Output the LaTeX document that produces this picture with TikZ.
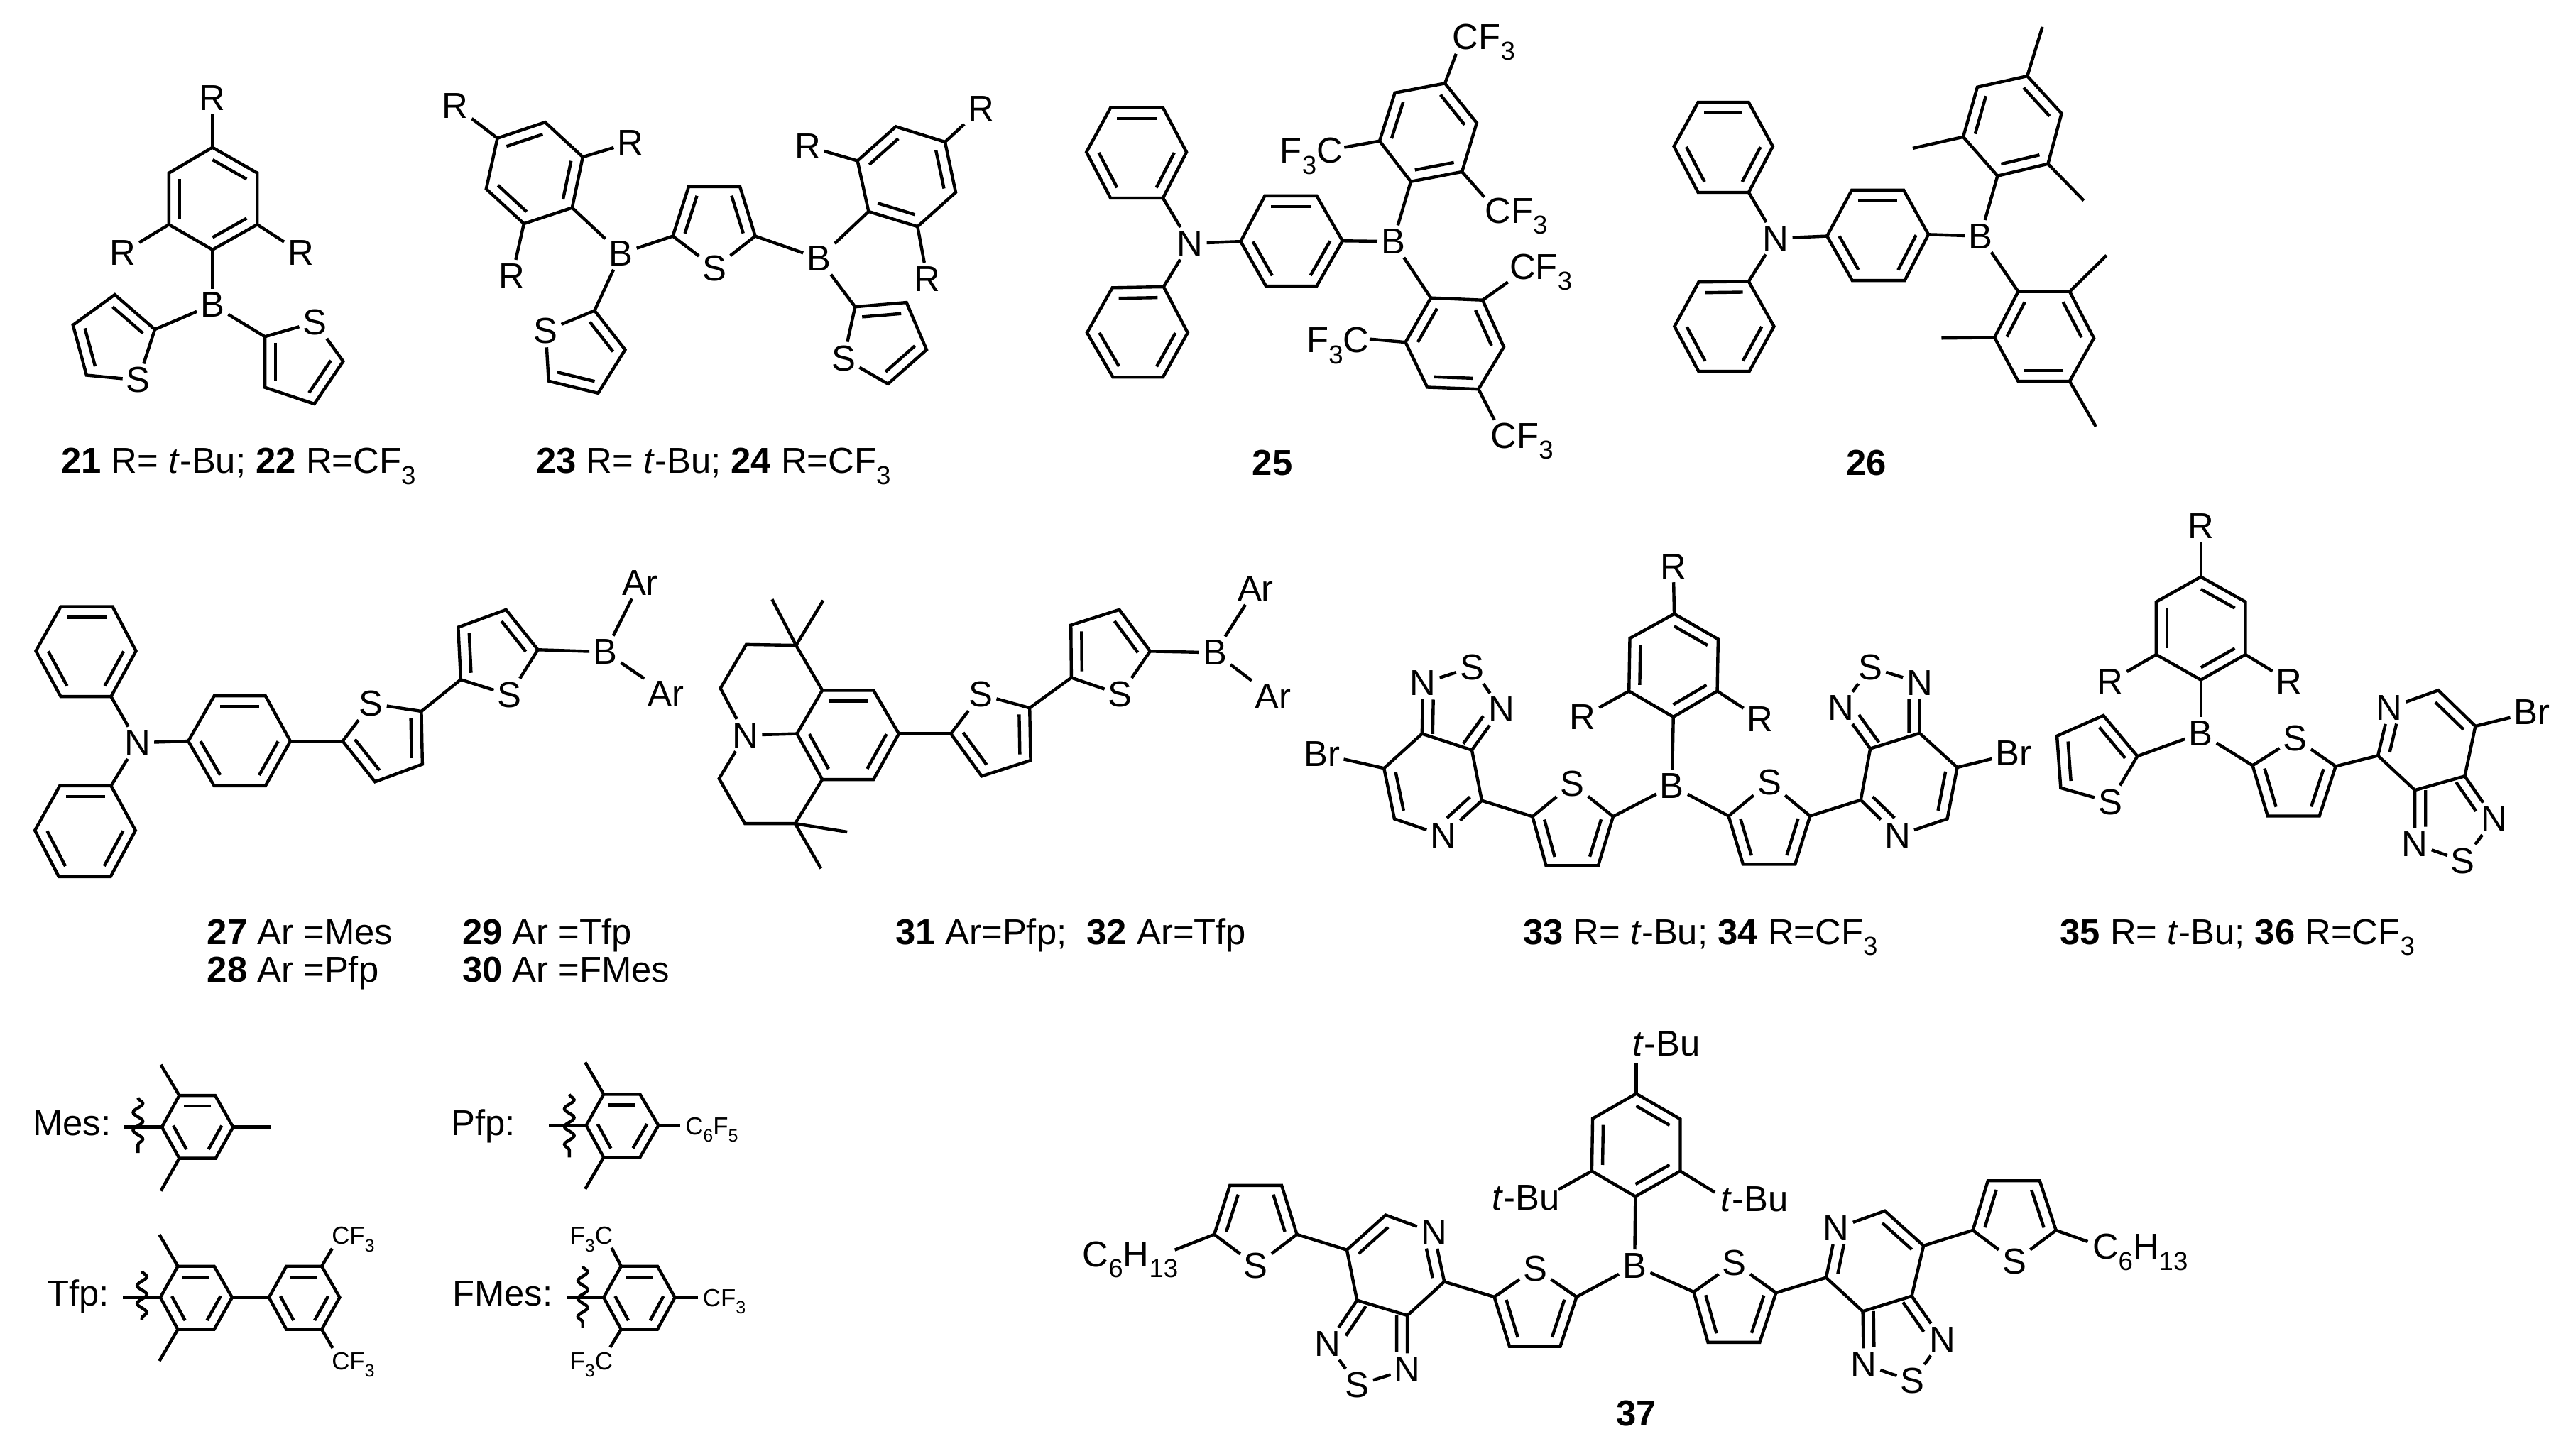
\documentclass[tikz,border=0pt]{standalone}
\usepackage{fontspec}
\usepackage{graphicx}
\setmainfont{Liberation Sans}
\usetikzlibrary{calc,decorations.pathmorphing}
\newcommand\sbs[1]{\raisebox{-.3em}{\scalebox{.72}{#1}}}
\tikzset{
 zc/.style n args={4}{shift={(#1*0.25pt,-#2*0.25pt)},x=#3*0.25pt/1568,y=-#4*0.25pt/1568},
 bond/.style={line width=1.1pt,line join=miter,black},
 atom/.style={inner sep=1.1pt,font=\fontsize{12.7}{14}\selectfont},
 lab/.style={inner sep=0pt,font=\fontsize{12.7}{14}\selectfont,anchor=base west},
 smalllab/.style={inner sep=0pt,font=\fontsize{8.7}{10}\selectfont,anchor=base west},
 wavy/.style={line width=1.1pt,decorate,decoration={snake,amplitude=1.7pt,segment length=6.3pt}},
}
\newcommand\gapdb{3.75pt}
\newcommand\pnt[2]{\coordinate (#1) at (#2);}
\newcommand\atm[3]{\node[atom] (#1) at (#3) {#2};}
\newcommand\bnd[2]{\draw[bond] (#1) -- (#2);}
\newcommand\free[3]{\coordinate (#1) at (#3); \draw[bond] (#2) -- (#1);}
% inner line of a double bond, on the side of a centre point
\newcommand\dblf[5]{%
 \coordinate (tmpA) at ($(#1.center)!(#3.center)!(#2.center)$);
 \coordinate (tmpB) at ($(tmpA)!\gapdb!(#3.center)$);
 \draw[bond] ($(#1.center)!#4!(#2.center)+(tmpB)-(tmpA)$) -- ($(#1.center)!#5!(#2.center)+(tmpB)-(tmpA)$);}
\newcommand\dbl[3]{\dblf{#1}{#2}{#3}{.12}{.88}}
\newcommand\hexr[8]{%
 \pnt{#1a}{#2}\pnt{#1b}{#3}\pnt{#1c}{#4}\pnt{#1d}{#5}\pnt{#1e}{#6}\pnt{#1f}{#7}%
 \coordinate (#1o) at ($(#1a)!.5!(#1d)$);
 \draw[bond] (#1a)--(#1b)--(#1c)--(#1d)--(#1e)--(#1f)--cycle;
 \ifnum#8=1
  \dbl{#1a}{#1b}{#1o}\dbl{#1c}{#1d}{#1o}\dbl{#1e}{#1f}{#1o}%
 \else
  \dbl{#1b}{#1c}{#1o}\dbl{#1d}{#1e}{#1o}\dbl{#1f}{#1a}{#1o}%
 \fi}
\newcommand\thio[6]{%
 \pnt{#12}{#2}\pnt{#13}{#3}\pnt{#14}{#4}\pnt{#15}{#5}\atm{#1S}{S}{#6}%
 \coordinate (#1m) at ($(#13)!.5!(#14)$);
 \coordinate (#1o) at ($(#1m)!.45!(#1S.center)$);
 \draw[bond] (#1S)--(#12)--(#13)--(#14)--(#15)--(#1S);
 \dbl{#12}{#13}{#1o}\dbl{#14}{#15}{#1o}}
\newcommand\pyr[7]{%
 \pnt{#11}{#2}\atm{#1N}{N}{#3}\pnt{#13}{#4}\pnt{#14}{#5}\pnt{#15}{#6}\pnt{#16}{#7}%
 \coordinate (#1o) at ($(#11)!.5!(#14)$);
 \draw[bond] (#11)--(#1N)--(#13)--(#14)--(#15)--(#16)--(#11);
 \dblf{#11}{#1N}{#1o}{.12}{.72}\dbl{#13}{#14}{#1o}}
\newcommand\tdz[4]{%
 \atm{#1Na}{N}{#2}\atm{#1Nb}{N}{#3}\atm{#1Sd}{S}{#4}%
 \coordinate (#1m) at ($(#15)!.5!(#16)$);
 \coordinate (#1q) at ($(#1m)!.5!(#1Sd.center)$);
 \draw[bond] (#15)--(#1Na)--(#1Sd)--(#1Nb)--(#16);
 \dblf{#15}{#1Na}{#1q}{.0}{.68}\dblf{#16}{#1Nb}{#1q}{.0}{.68}}
\newcommand\tbu{\textit{t}-Bu}
\begin{document}
\begin{tikzpicture}
\useasboundingbox (0,0) rectangle (903.5pt,-512.75pt);
% ---------- 21, 23 left
\begin{scope}[zc={0}{60}{1300}{640}]
 \hexr{ma}{361,362}{437,450}{437,628}{361,715}{287,628}{287,450}{1}
 \atm{maRt}{R}{361,190}\atm{maRl}{R}{208,725}\atm{maRr}{R}{511,725}\atm{maB}{B}{361,905}
 \bnd{maa}{maRt}\bnd{mae}{maRl}\bnd{mac}{maRr}\bnd{mad}{maB}
 \thio{mat}{263,990}{195,870}{124,975}{147,1148}{235,1165}
 \thio{mau}{450,1015}{450,1190}{534,1247}{583,1100}{535,965}
 \bnd{maB}{mat2}\bnd{maB}{mau2}
 \node[lab] (lab21) at (103,1487) {\textbf{21} R= \textit{t}-Bu; \textbf{22} R=CF\sbs{3}};
 \hexr{mb}{926,275}{990,395}{972,570}{890,625}{826,505}{845,330}{2}
 \atm{mbR1}{R}{773,218}\atm{mbR2}{R}{1071,345}\atm{mbR3}{R}{870,805}\atm{mbB}{B}{1055,728}
 \bnd{mbf}{mbR1}\bnd{mbb}{mbR2}\bnd{mbd}{mbR3}\bnd{mbc}{mbB}
 \thio{mbt}{1143,668}{1170,497}{1257,497}{1283,668}{1214,778}
 \bnd{mbB}{mbt2}
 \thio{mbu}{1010,925}{1062,1060}{1016,1210}{932,1168}{927,995}
 \bnd{mbB}{mbu2}
 \node[lab] (lab23) at (910,1487) {\textbf{23} R= \textit{t}-Bu; \textbf{24} R=CF\sbs{3}};
\end{scope}
% ---------- 23 right
\begin{scope}[zc={1050}{60}{522.67}{640}]
 \hexr{mc}{635,290}{843,343}{888,517}{727,635}{520,583}{473,408}{2}
 \atm{mcR1}{R}{262,358}\atm{mcR2}{R}{995,228}\atm{mcR3}{R}{768,815}\atm{mcB}{B}{310,745}
 \bnd{mcf}{mcR1}\bnd{mcb}{mcR2}\bnd{mcd}{mcR3}\bnd{mce}{mcB}\bnd{mbt5}{mcB}
 \thio{mcu}{463,912}{680,897}{765,1060}{602,1178}{415,1090}
 \bnd{mcB}{mcu2}
\end{scope}
% ---------- 25, 26 left
\begin{scope}[zc={1400}{0}{1300}{700}]
 \atm{mdN}{N}{333,768}\atm{mdB}{B}{678,762}
 \hexr{mdp}{198,340}{287,340}{327,480}{287,625}{198,625}{157,480}{1}
 \hexr{mdq}{201,908}{288,905}{329,1050}{287,1190}{202,1190}{158,1050}{1}
 \hexr{mdr}{460,618}{548,618}{592,760}{548,903}{462,903}{419,762}{1}
 \bnd{mdpd}{mdN}\bnd{mdqb}{mdN}\bnd{mdN}{mdrf}\bnd{mdrc}{mdB}
 \hexr{mds}{708,573}{795,542}{820,388}{766,263}{681,293}{655,445}{1}
 \hexr{mdt}{742,940}{830,947}{866,1095}{823,1228}{736,1222}{699,1080}{2}
 \bnd{mdB}{mdsa}\bnd{mdB}{mdta}
 \free{mde1}{mdsd}{785,170}\free{mde2}{mdsf}{595,465}\free{mde3}{mdsb}{833,622}
 \free{mde4}{mdtb}{873,890}\free{mde5}{mdtf}{638,1070}\free{mde6}{mdtd}{850,1325}
 \node[lab] (mdc1) at (778,155) {CF\sbs{3}};
 \node[lab] (mdc2) at (485,515) {F\sbs{3}C};
 \node[lab] (mdc3) at (833,705) {CF\sbs{3}};
 \node[lab] (mdc4) at (875,882) {CF\sbs{3}};
 \node[lab] (mdc5) at (530,1113) {F\sbs{3}C};
 \node[lab] (mdc6) at (843,1415) {CF\sbs{3}};
 \node[lab] (lab25) at (438,1500) {\textbf{25}};
 \atm{meN}{N}{1328,752}
 \hexr{mep}{1196,323}{1282,323}{1323,462}{1282,607}{1196,607}{1155,462}{1}
 \hexr{meq}{1197,890}{1282,888}{1325,1030}{1283,1172}{1197,1172}{1156,1030}{1}
 \bnd{meN}{mepd}\bnd{meN}{meqb}
\end{scope}
% ---------- 26 right
\begin{scope}[zc={2500}{0}{1114}{700}]
 \atm{meB}{B}{407,745}
 \hexr{mer}{152,600}{255,600}{304,740}{257,885}{153,885}{103,745}{1}
 \bnd{meN}{merf}\bnd{merc}{meB}
 \hexr{mes}{441,555}{541,517}{568,358}{500,240}{401,275}{373,432}{1}
 \hexr{met}{482,920}{584,920}{632,1067}{584,1203}{482,1203}{435,1065}{2}
 \bnd{meB}{mesa}\bnd{meB}{meta}
 \free{mem1}{mesd}{530,85}\free{mem2}{mesf}{273,468}\free{mem3}{mesb}{612,633}
 \free{mem4}{metb}{657,806}\free{mem5}{metf}{330,1067}\free{mem6}{metd}{636,1346}
 \node[lab] (lab26) at (140,1500) {\textbf{26}};
\end{scope}
% ---------- 27
\begin{scope}[zc={0}{760}{1100}{680}]
 \atm{mfN}{N}{276,660}\atm{mfB}{B}{1215,365}\atm{mfA1}{Ar}{1285,140}\atm{mfA2}{Ar}{1337,500}
 \hexr{mfp}{122,218}{226,218}{273,362}{223,510}{122,510}{72,362}{1}
 \hexr{mfq}{120,800}{223,800}{272,945}{222,1095}{118,1095}{70,945}{1}
 \hexr{mfr}{430,508}{533,508}{583,655}{533,800}{430,800}{378,655}{1}
 \bnd{mfpd}{mfN}\bnd{mfqb}{mfN}\bnd{mfN}{mfrf}
 \thio{mft}{688,655}{753,787}{848,730}{846,558}{745,533}
 \thio{mfu}{925,455}{920,285}{1016,228}{1080,358}{1023,505}
 \bnd{mfrc}{mft2}\bnd{mft5}{mfu2}\bnd{mfu5}{mfB}\bnd{mfB}{mfA1}\bnd{mfB}{mfA2}
 \node[lab] (lab27) at (415,1315) {\textbf{27} Ar =Mes};
 \node[lab] (lab29) at (927,1315) {\textbf{29} Ar =Tfp};
 \node[lab] (lab28) at (415,1437) {\textbf{28} Ar =Pfp};
 \node[lab] (lab30) at (927,1437) {\textbf{30} Ar =FMes};
\end{scope}
% ---------- 31
\begin{scope}[zc={1000}{760}{1000}{620}]
 \atm{mgN}{N}{78,697}\atm{mgB}{B}{1115,403}\atm{mgA1}{Ar}{1205,175}\atm{mgA2}{Ar}{1243,560}
 \hexr{mgr}{248,537}{361,537}{417,692}{361,855}{248,855}{192,692}{1}
 \bnd{mgN}{mgrf}
 \pnt{mgu1}{190,377}\pnt{mgu2}{80,374}\pnt{mgu3}{23,530}
 \pnt{mgl1}{188,1012}\pnt{mgl2}{77,1012}\pnt{mgl3}{20,852}
 \draw[bond] (mgra)--(mgu1)--(mgu2)--(mgu3)--(mgN);
 \draw[bond] (mgre)--(mgl1)--(mgl2)--(mgl3)--(mgN);
 \free{mgm1}{mgu1}{137,213}\free{mgm2}{mgu1}{250,217}
 \free{mgm3}{mgl1}{303,1042}\free{mgm4}{mgl1}{245,1172}
 \thio{mgt}{532,692}{600,843}{708,787}{706,600}{598,552}
 \thio{mgv}{798,492}{797,305}{904,250}{972,398}{906,552}
 \bnd{mgrc}{mgt2}\bnd{mgt5}{mgv2}\bnd{mgv5}{mgB}\bnd{mgB}{mgA1}\bnd{mgB}{mgA2}
 \node[lab] (lab31) at (408,1442) {\textbf{31} Ar=Pfp;\ \ \textbf{32} Ar=Tfp};
\end{scope}
% ---------- 33
\begin{scope}[zc={1800}{760}{1000}{620}]
 \atm{mhB}{B}{870,878}\atm{mhRt}{R}{873,95}\atm{mhRl}{R}{672,632}\atm{mhRr}{R}{1065,640}
 \hexr{mhr}{875,265}{972,355}{970,540}{873,632}{775,540}{777,352}{1}
 \bnd{mhra}{mhRt}\bnd{mhre}{mhRl}\bnd{mhrc}{mhRr}\bnd{mhrd}{mhB}
 \thio{mht}{740,987}{707,1162}{592,1162}{562,987}{650,870}
 \thio{mhu}{995,985}{1027,1157}{1142,1157}{1175,985}{1085,865}
 \bnd{mhB}{mht2}\bnd{mhB}{mhu2}
 \pyr{mhp}{450,930}{365,1055}{257,995}{234,815}{318,692}{428,750}
 \tdz{mhp}{320,512}{493,605}{428,455}
 \pyr{mhq}{1287,928}{1368,1055}{1478,995}{1500,812}{1417,690}{1308,745}
 \tdz{mhq}{1417,510}{1243,600}{1308,455}
 \bnd{mht5}{mhp1}\bnd{mhu5}{mhq1}
 \atm{mhBr1}{Br}{97,765}\atm{mhBr2}{Br}{1625,762}
 \bnd{mhp4}{mhBr1}\bnd{mhq4}{mhBr2}
 \node[lab] (lab33) at (540,1442) {\textbf{33} R= \textit{t}-Bu; \textbf{34} R=CF\sbs{3}};
\end{scope}
% ---------- 35
\begin{scope}[zc={2780}{760}{834}{620}]
 \atm{miB}{B}{601,690}\atm{miRt}{R}{601,-48}\atm{miRl}{R}{361,505}\atm{miRr}{R}{835,505}
 \hexr{mir}{601,133}{719,222}{719,410}{601,500}{483,410}{483,222}{1}
 \bnd{mira}{miRt}\bnd{mire}{miRl}\bnd{mirc}{miRr}\bnd{mird}{miB}
 \thio{mit}{433,772}{343,627}{220,700}{230,885}{361,935}
 \thio{miu}{738,805}{778,985}{915,985}{958,808}{851,708}
 \bnd{miB}{mit2}\bnd{miB}{miu2}
 \pyr{mip}{1070,770}{1100,600}{1230,537}{1328,665}{1300,843}{1168,893}
 \tdz{mip}{1378,995}{1168,1085}{1295,1145}
 \bnd{miu5}{mip1}
 \atm{miBr}{Br}{1478,615}\bnd{mip4}{miBr}
 \node[lab] (lab35) at (227,1442) {\textbf{35} R= \textit{t}-Bu; \textbf{36} R=CF\sbs{3}};
\end{scope}
% ---------- aryl legend
\begin{scope}[zc={0}{1440}{1100}{530}]
 \node[lab] (lmes) at (65,472) {Mes:};
 \hexr{lm}{360,305}{432,305}{468,437}{433,567}{360,567}{325,437}{1}
 \free{lm1}{lma}{323,177}\free{lm2}{lme}{323,703}\free{lm3}{lmc}{543,437}\free{lm4}{lmf}{250,437}
 \coordinate (lmw1) at (277,315);\coordinate (lmw2) at (277,545);
 \draw[wavy] (lmw1) -- (lmw2);
 \node[lab] (lpfp) at (905,472) {Pfp:};
 \hexr{lp}{1212,300}{1285,300}{1322,430}{1285,563}{1212,563}{1177,430}{1}
 \free{lp1}{lpa}{1175,167}\free{lp2}{lpe}{1175,695}\free{lp3}{lpc}{1365,430}\free{lp4}{lpf}{1102,430}
 \coordinate (lpw1) at (1143,300);\coordinate (lpw2) at (1143,563);
 \draw[wavy] (lpw1) -- (lpw2);
 \node[smalllab] (lpc6) at (1375,468) {C\sbs{6}F\sbs{5}};
 \node[lab] (ltfp) at (93,1182) {Tfp:};
 \hexr{lt}{357,1017}{430,1017}{466,1147}{430,1280}{357,1280}{322,1147}{1}
 \free{lt1}{lta}{320,885}\free{lt2}{lte}{320,1412}\free{lt4}{ltf}{247,1147}
 \coordinate (ltw1) at (285,1037);\coordinate (ltw2) at (285,1240);
 \draw[wavy] (ltw1) -- (ltw2);
 \hexr{lu}{575,1017}{646,1017}{682,1147}{646,1280}{575,1280}{540,1147}{1}
 \bnd{ltc}{luf}
 \free{lu1}{lub}{667,943}\free{lu2}{lud}{668,1358}
 \node[smalllab] (luc1) at (665,925) {CF\sbs{3}};
 \node[smalllab] (luc2) at (665,1447) {CF\sbs{3}};
 \node[lab] (lfm) at (907,1182) {FMes:};
 \hexr{lf}{1247,1017}{1320,1017}{1355,1147}{1320,1280}{1247,1280}{1212,1147}{1}
 \free{lf3}{lfc}{1402,1147}\free{lf4}{lff}{1137,1147}
 \free{lf1}{lfa}{1228,940}\free{lf2}{lfe}{1225,1355}
 \coordinate (lfw1) at (1170,1017);\coordinate (lfw2) at (1170,1275);
 \draw[wavy] (lfw1) -- (lfw2);
 \node[smalllab] (lfc3) at (1410,1185) {CF\sbs{3}};
 \node[smalllab] (lfc1) at (1143,925) {F\sbs{3}C};
 \node[smalllab] (lfc2) at (1143,1447) {F\sbs{3}C};
\end{scope}
% ---------- 37 left
\begin{scope}[zc={1500}{1440}{800}{611}]
 \node[lab] (mjc1) at (47,883) {C\sbs{6}H\sbs{13}};
 \thio{mjt}{412,767}{455,590}{598,590}{640,767}{527,880}
 \free{mje1}{mjt2}{303,823}
 \pyr{mjp}{1047,938}{1018,760}{885,697}{778,823}{806,1005}{945,1060}
 \tdz{mjp}{725,1162}{945,1255}{807,1312}
 \bnd{mjt5}{mjp4}
 \thio{mju}{1185,993}{1227,1172}{1367,1172}{1412,993}{1298,890}
 \bnd{mjp1}{mju2}
 \node[lab] (mjb1) at (1178,680) {\tbu};
 \coordinate (mje2) at (1362,605);
\end{scope}
% ---------- 37 right
\begin{scope}[zc={2200}{1440}{900}{611}]
 \atm{mjB}{B}{178,880}
 \hexr{mjr}{182,258}{290,350}{290,538}{180,630}{73,538}{75,348}{1}
 \bnd{mjrd}{mjB}\bnd{mjre}{mje2}\bnd{mjB}{mju5}
 \free{mje3}{mjra}{182,145}\free{mje4}{mjrc}{375,615}
 \node[lab] (mjb2) at (172,122) {\tbu};
 \node[lab] (mjb3) at (388,683) {\tbu};
 \thio{mjv}{323,975}{358,1157}{485,1157}{525,978}{423,870}
 \bnd{mjB}{mjv2}
 \pyr{mjq}{648,923}{673,745}{792,682}{887,808}{858,990}{738,1045}
 \tdz{mjq}{933,1147}{740,1237}{860,1297}
 \bnd{mjv5}{mjq1}
 \thio{mjw}{1008,752}{1045,573}{1172,573}{1212,752}{1110,865}
 \bnd{mjq4}{mjw2}
 \free{mje5}{mjw5}{1290,793}
 \node[lab] (mjc2) at (1300,857) {C\sbs{6}H\sbs{13}};
 \node[lab] (lab37) at (132,1460) {\textbf{37}};
\end{scope}
\end{tikzpicture}
\end{document}
